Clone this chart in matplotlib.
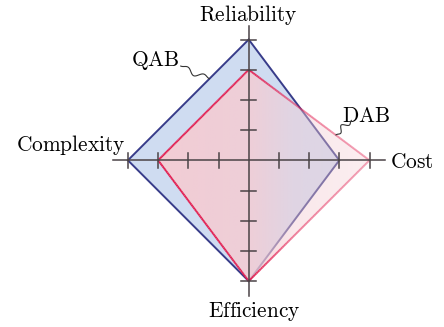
import numpy as np
import matplotlib
matplotlib.use("Agg")
import matplotlib.pyplot as plt
from matplotlib.patches import Polygon
from matplotlib.collections import LineCollection

plt.rcParams['mathtext.fontset'] = 'cm'

# axis order: up, right, down, left
criteria = ["Reliability", "Cost", "Efficiency", "Complexity"]
qab_scores = [4, 3, 4, 4]
dab_scores = [3, 4, 4, 3]
n_ticks = 4

directions = np.array([[0, 1], [1, 0], [0, -1], [-1, 0]], dtype=float)


def vertices(scores):
    return directions * np.array(scores, dtype=float)[:, None]


# opacity of the DAB layer, fading out towards the east
fade_x = [-3.0, 0.0, 1.5, 4.0]
fade_fill = [0.95, 0.85, 0.45, 0.33]
fade_line = [1.0, 0.95, 0.55, 0.4]

fig = plt.figure(figsize=(4.44, 3.27), dpi=100)
ax = fig.add_axes([0, 0, 1, 1])
unit = 30.2
cx, cy = 248.7, 160.3
ax.set_xlim(-cx / unit, (444 - cx) / unit)
ax.set_ylim(-(327 - cy) / unit, cy / unit)
ax.set_aspect('equal')
ax.axis('off')

# QAB: plain fill and outline
qv = vertices(qab_scores)
ax.add_patch(Polygon(qv, closed=True, facecolor='#cfdcf1', edgecolor='#383c8a',
                     linewidth=1.4, zorder=1))

# DAB: fill and outline fade out towards the right
dv = vertices(dab_scores)
x0, x1 = dv[:, 0].min(), dv[:, 0].max()
y0, y1 = dv[:, 1].min(), dv[:, 1].max()
xs = np.linspace(x0, x1, 300)
img = np.zeros((2, 300, 4))
img[..., 0], img[..., 1], img[..., 2] = 0.96, 0.80, 0.83
img[..., 3] = np.interp(xs, fade_x, fade_fill)
clip = Polygon(dv, closed=True, facecolor='none', edgecolor='none')
ax.add_patch(clip)
im = ax.imshow(img, extent=[x0, x1, y0, y1], origin='lower', aspect='auto',
               interpolation='bilinear', zorder=2)
im.set_clip_path(clip)

pts = np.vstack([dv, dv[:1]])
segs, cols = [], []
for a, b in zip(pts[:-1], pts[1:]):
    t = np.linspace(0, 1, 80)
    line = a + (b - a) * t[:, None]
    for p, q in zip(line[:-1], line[1:]):
        segs.append([p, q])
        alpha = np.interp((p[0] + q[0]) / 2, fade_x, fade_line)
        cols.append((0.89, 0.11, 0.31, alpha))
ax.add_collection(LineCollection(segs, colors=cols, linewidths=1.4,
                                 capstyle='butt', zorder=3))

# axes with tick marks
axis_color = '#4a4346'
ax.plot([-4.5, 4.5], [0, 0], color=axis_color, lw=1.1, zorder=4)
ax.plot([0, 0], [-4.5, 4.45], color=axis_color, lw=1.1, zorder=4)
for k in range(1, n_ticks + 1):
    for s in (-1, 1):
        ax.plot([s * k, s * k], [-0.25, 0.25], color=axis_color, lw=1.1, zorder=4)
        ax.plot([-0.25, 0.25], [s * k, s * k], color=axis_color, lw=1.1, zorder=4)

fs = 15.4
ax.text(0, 4.81, r'$\mathrm{%s}$' % criteria[0], ha='center', va='center', fontsize=fs)
ax.text(4.68, -0.06, r'$\mathrm{%s}$' % criteria[1], ha='left', va='center', fontsize=fs)
ax.text(0.18, -5.02, r'$\mathrm{%s}$' % criteria[2], ha='center', va='center', fontsize=fs)
ax.text(-4.08, 0.5, r'$\mathrm{%s}$' % criteria[3], ha='right', va='center', fontsize=fs)


def snake(p, q, waves=1.5, amp=0.12):
    p, q = np.array(p), np.array(q)
    t = np.linspace(0, 1, 60)
    d = q - p
    nrm = np.array([-d[1], d[0]]) / np.hypot(*d)
    w = amp * np.sin(2 * np.pi * waves * t) * np.sin(np.pi * t)
    line = p + d * t[:, None] + nrm * w[:, None]
    ax.plot(line[:, 0], line[:, 1], color='#333333', lw=0.8, zorder=5)


ax.text(-3.10, 3.29, r'$\mathrm{QAB}$', ha='center', va='center', fontsize=fs)
snake((-2.25, 3.12), (-1.3, 2.7))
ax.text(3.88, 1.47, r'$\mathrm{DAB}$', ha='center', va='center', fontsize=fs)
snake((3.40, 1.32), (2.89, 0.84))

fig.savefig('out.png', dpi=100)
